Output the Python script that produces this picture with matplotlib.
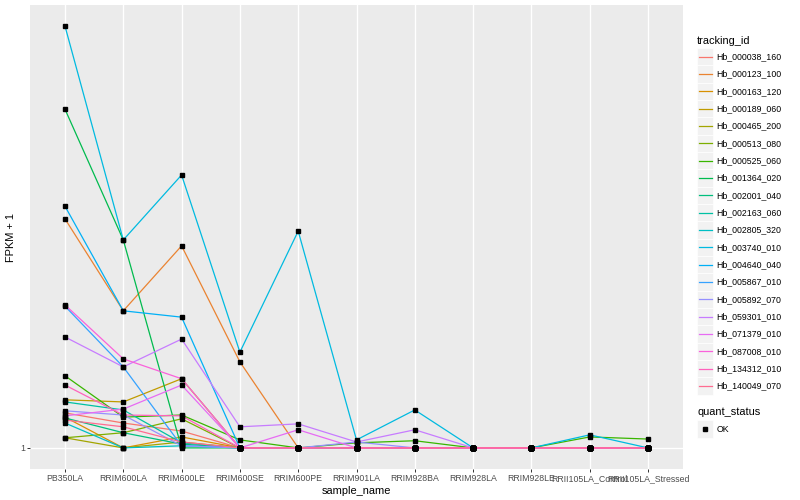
"""Expression plot of selected genes across samples (FPKM + 1)."""

import matplotlib
matplotlib.use("Agg")
import matplotlib.pyplot as plt
from matplotlib.lines import Line2D
from matplotlib.patches import Rectangle

samples = ["PB350LA", "RRIM600LA", "RRIM600LE", "RRIM600SE", "RRIM600PE",
           "RRIM901LA", "RRIM928BA", "RRIM928LA", "RRIM928LE",
           "RRII105LA_Control", "RRII105LA_Stressed"]

tracking_ids = ["Hb_000038_160", "Hb_000123_100", "Hb_000163_120", "Hb_000189_060",
                "Hb_000465_200", "Hb_000513_080", "Hb_000525_060", "Hb_001364_020",
                "Hb_002001_040", "Hb_002163_060", "Hb_002805_320", "Hb_003740_010",
                "Hb_004640_040", "Hb_005867_010", "Hb_005892_070", "Hb_059301_010",
                "Hb_071379_010", "Hb_087008_010", "Hb_134312_010", "Hb_140049_070"]

# FPKM + 1 per sample (order of `samples`)
hb_000038_160 = [1.83, 1.59, 1.40, 1.0, 1.0, 1.0, 1.0, 1.0, 1.0, 1.0, 1.0]
hb_000123_100 = [6.43, 4.25, 5.79, 3.04, 1.0, 1.0, 1.0, 1.0, 1.0, 1.0, 1.0]
hb_000163_120 = [1.73, 1.0, 1.26, 1.0, 1.0, 1.0, 1.0, 1.0, 1.0, 1.0, 1.0]
hb_000189_060 = [2.14, 2.09, 2.64, 1.0, 1.0, 1.0, 1.0, 1.0, 1.0, 1.0, 1.0]
hb_000465_200 = [1.24, 1.0, 1.14, 1.0, 1.0, 1.0, 1.0, 1.0, 1.0, 1.0, 1.0]
hb_000513_080 = [1.24, 1.36, 1.69, 1.0, 1.0, 1.0, 1.0, 1.0, 1.0, 1.0, 1.0]
hb_000525_060 = [2.71, 1.73, 1.78, 1.19, 1.0, 1.12, 1.17, 1.0, 1.0, 1.26, 1.21]
hb_001364_020 = [9.03, 5.93, 1.0, 1.0, 1.0, 1.0, 1.0, 1.0, 1.0, 1.0, 1.0]
hb_002001_040 = [1.71, 1.36, 1.09, 1.0, 1.0, 1.0, 1.0, 1.0, 1.0, 1.0, 1.0]
hb_002163_060 = [2.09, 1.90, 1.12, 1.0, 1.0, 1.0, 1.0, 1.0, 1.0, 1.0, 1.0]
hb_002805_320 = [1.59, 1.0, 1.05, 1.0, 1.0, 1.0, 1.0, 1.0, 1.0, 1.0, 1.0]
hb_003740_010 = [11.0, 5.93, 7.47, 3.27, 6.14, 1.19, 1.90, 1.0, 1.0, 1.31, 1.0]
hb_004640_040 = [6.73, 4.25, 4.10, 1.0, 1.0, 1.0, 1.0, 1.0, 1.0, 1.0, 1.0]
hb_005867_010 = [4.36, 2.92, 1.05, 1.0, 1.0, 1.0, 1.0, 1.0, 1.0, 1.0, 1.0]
hb_005892_070 = [1.88, 1.78, 1.05, 1.0, 1.0, 1.14, 1.0, 1.0, 1.0, 1.0, 1.0]
hb_059301_010 = [3.63, 2.92, 3.58, 1.50, 1.57, 1.14, 1.43, 1.0, 1.0, 1.0, 1.0]
hb_071379_010 = [1.76, 1.92, 2.49, 1.0, 1.43, 1.0, 1.0, 1.0, 1.0, 1.0, 1.0]
hb_087008_010 = [4.39, 3.11, 2.64, 1.0, 1.0, 1.0, 1.0, 1.0, 1.0, 1.0, 1.0]
hb_134312_010 = [2.49, 1.78, 1.76, 1.0, 1.0, 1.0, 1.0, 1.0, 1.0, 1.0, 1.0]
hb_140049_070 = [1.66, 1.50, 1.14, 1.0, 1.0, 1.0, 1.0, 1.0, 1.0, 1.0, 1.0]

series = [hb_000038_160, hb_000123_100, hb_000163_120, hb_000189_060, hb_000465_200,
          hb_000513_080, hb_000525_060, hb_001364_020, hb_002001_040, hb_002163_060,
          hb_002805_320, hb_003740_010, hb_004640_040, hb_005867_010, hb_005892_070,
          hb_059301_010, hb_071379_010, hb_087008_010, hb_134312_010, hb_140049_070]

# ggplot default hue palette, 20 levels
colors = ["#F8766D", "#EA8331", "#D89000", "#C09B00", "#A3A500", "#7CAE00", "#39B600",
          "#00BB4E", "#00BF7D", "#00C1A3", "#00BFC4", "#00BAE0", "#00B0F6", "#35A2FF",
          "#9590FF", "#C77CFF", "#E76BF3", "#FA62DB", "#FF62BC", "#FF6C91"]

plt.rcParams["font.family"] = ["Liberation Sans", "DejaVu Sans"]

W, H = 800, 500
fig = plt.figure(figsize=(8, 5), dpi=100)
ax = fig.add_axes([30 / W, 31 / H, 653 / W, 464 / H])
ax.set_facecolor("#EBEBEB")
for sp in ax.spines.values():
    sp.set_visible(False)

x = list(range(len(samples)))

# lines first, points on top
for vals, col in zip(series, colors):
    ax.plot(x, vals, color=col, linewidth=0.9, zorder=2)
for vals in series:
    ax.plot(x, vals, linestyle="", marker="s", markersize=2.8, color="black", zorder=3)

ax.set_xlim(-0.6, len(samples) - 0.4)
ax.set_ylim(0.5, 11.5)
ax.set_xticks(x)
ax.set_xticklabels(samples)
ax.set_yticks([1])
ax.set_yticklabels(["1"])
ax.set_axisbelow(True)
ax.grid(True, color="white", linewidth=1.0, zorder=0)
ax.tick_params(length=2.0, width=0.7, color="#333333", labelsize=6.3,
               labelcolor="#4D4D4D", pad=1.6)
ax.set_xlabel("sample_name", fontsize=7.9, labelpad=2)
ax.set_ylabel("FPKM + 1", fontsize=7.9, labelpad=3)


# legend drawn by hand, ggplot-like
def fx(px):
    return px / W


def fy(py):
    return 1 - py / H


key_w, key_h = 16.5, 17.3
fig.text(fx(697), fy(40.7), "tracking_id", fontsize=7.9, va="center", ha="left")
for i, (tid, col) in enumerate(zip(tracking_ids, colors)):
    yc = 56.7 + i * 17.33
    fig.add_artist(Rectangle((fx(696.5), fy(yc + key_h / 2)), key_w / W, key_h / H,
                             transform=fig.transFigure, facecolor="#F2F2F2",
                             edgecolor="white", linewidth=0.5))
    fig.add_artist(Line2D([fx(698.5), fx(711.5)], [fy(yc), fy(yc)],
                          transform=fig.transFigure, color=col, linewidth=0.9))
    fig.text(fx(716.5), fy(yc), tid, fontsize=6.3, va="center", ha="left")

fig.text(fx(697), fy(412), "quant_status", fontsize=7.9, va="center", ha="left")
fig.add_artist(Rectangle((fx(696.5), fy(429 + key_h / 2)), key_w / W, key_h / H,
                         transform=fig.transFigure, facecolor="#F2F2F2",
                         edgecolor="white", linewidth=0.5))
fig.add_artist(Line2D([fx(705)], [fy(429)], transform=fig.transFigure, linestyle="",
                      marker="s", markersize=2.8, color="black"))
fig.text(fx(716.5), fy(429), "OK", fontsize=6.3, va="center", ha="left")

fig.savefig("out.png", dpi=100)
